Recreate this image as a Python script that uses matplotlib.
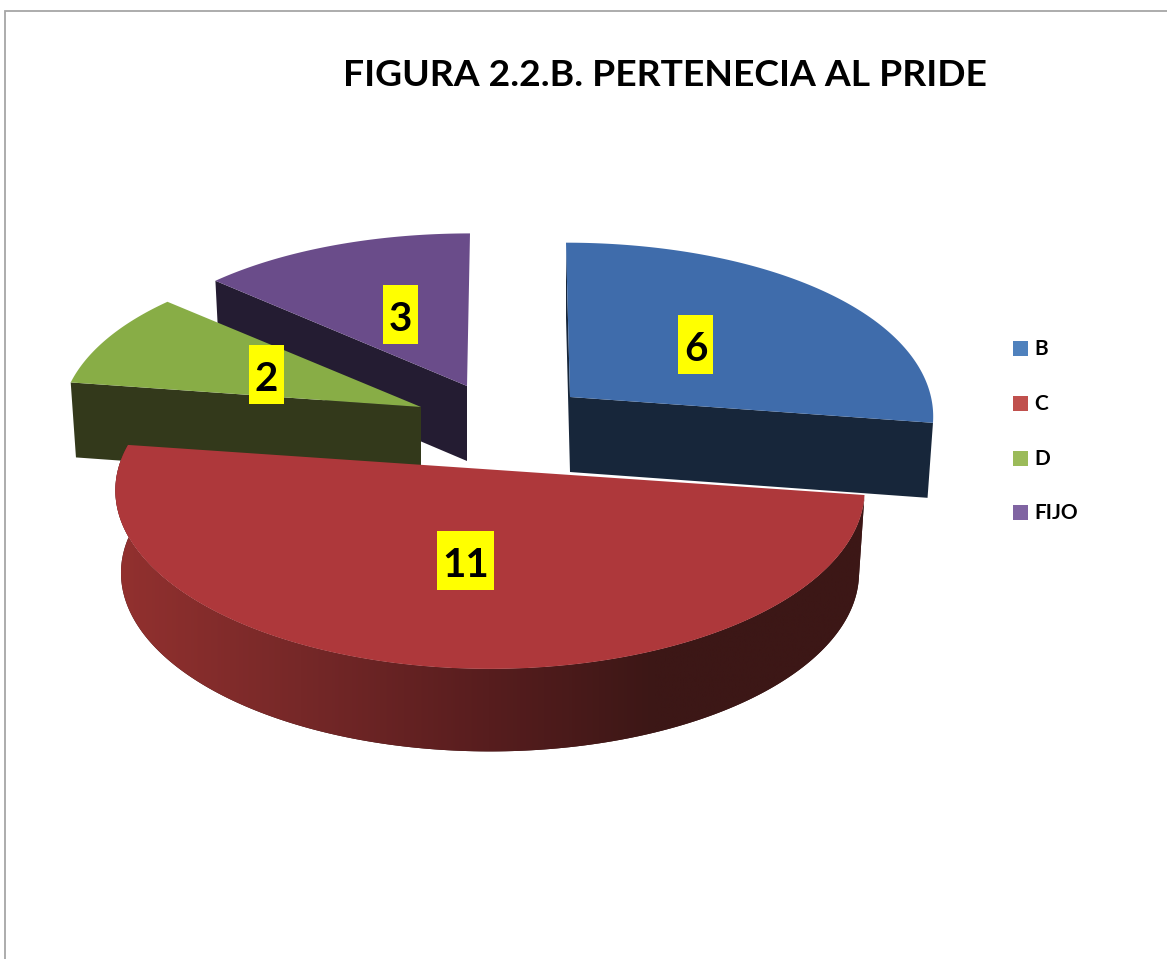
import numpy as np
import matplotlib
matplotlib.use("Agg")
from matplotlib import pyplot as plt
from matplotlib.colors import LinearSegmentedColormap, to_rgb
from matplotlib.patches import Polygon, Rectangle

TITLE = "FIGURA 2.2.B. PERTENECIA AL PRIDE"
categories = ["B", "C", "D", "FIJO"]
values = [6, 11, 2, 3]

top_colors = ["#3f6cab", "#ae383b", "#88ad46", "#6a4c8a"]
side_colors = ["#17263a", "#3a1615", "#33391b", "#241c32"]
legend_colors = ["#4f81bd", "#c0504d", "#9bbb59", "#8064a2"]

# exploded slices, in pixels of the picture
apex_x = [570, 490, 421, 467]
apex_y = [397, 469.5, 407, 386]
radius_x = [361, 372, 359, 359]
radius_y = [178, 176, 176, 176]
keystone_x = [0.1, 0.12, 0.1, 0.1]
lean = [-4, 0, 0, 3]
KEYSTONE_Y = 0.133
depth = [75, 82.5, 75, 75]
BOTTOM_SCALE = 0.985

label_x = [695.5, 465.5, 266.5, 400.5]
label_y = [344.5, 560.5, 374.5, 314.5]
legend_y = [348, 403, 458, 512]
draw_order = [3, 2, 0, 1]

plt.rcParams["font.family"] = ["Lato", "DejaVu Sans"]
plt.rcParams["font.weight"] = "bold"


def rim(i, deg, drop=0.0, scale=1.0):
    t = np.radians(deg)
    x = apex_x[i] + scale * radius_x[i] * np.sin(t) * (1 - keystone_x[i] * np.cos(t)) + lean[i] * np.cos(t)
    y = apex_y[i] - radius_y[i] * np.cos(t) * (1 - KEYSTONE_Y * np.cos(t)) + drop
    return np.column_stack([x, y])


def radial_wall(i, deg):
    corner = rim(i, np.array([deg]))
    low_corner = rim(i, np.array([deg]), depth[i], BOTTOM_SCALE)
    apex = [apex_x[i], apex_y[i]]
    low_apex = [apex_x[i], apex_y[i] + depth[i]]
    return Polygon([apex, corner[0], low_corner[0], low_apex], closed=True, fc=side_colors[i], ec="none", zorder=z)


fig = plt.figure(figsize=(11.67, 9.59), dpi=100)
ax = fig.add_axes([0, 0, 1, 1])

edges = np.cumsum([0] + values) * 360.0 / sum(values)
z = 2
for i in draw_order:
    t0, t1 = edges[i], edges[i + 1]
    arc = np.linspace(t0, t1, 200)

    # outer wall: only the big front slice shows one
    if t1 - t0 > 120:
        upper = rim(i, arc)
        lower = rim(i, arc, depth[i], BOTTOM_SCALE)
        wall = Polygon(np.vstack([upper, lower[::-1]]), closed=True, fc=side_colors[i], ec="none", zorder=z)
        ax.add_patch(wall)
        stops = [(0.0, "#93312f"), (0.25, "#762828"), (0.5, "#571d1e"), (0.72, "#3c1716"), (1.0, "#3c1716")]
        cmap = LinearSegmentedColormap.from_list("wall", [(p, to_rgb(c)) for p, c in stops])
        img = ax.imshow(np.linspace(0, 1, 256)[None, :], cmap=cmap, aspect="auto",
                        extent=[112, 866, 760, 440], zorder=z, interpolation="bilinear")
        img.set_clip_path(wall)
    if np.sin(np.radians(t0)) < -0.01 or (t0 == 0 and lean[i] < 0):
        ax.add_patch(radial_wall(i, t0))
    if np.sin(np.radians(t1)) > 0.01:
        ax.add_patch(radial_wall(i, t1))

    top = np.vstack([[apex_x[i], apex_y[i]], rim(i, arc)])
    ax.add_patch(Polygon(top, closed=True, fc=top_colors[i], ec="none", zorder=z + 0.5))
    z += 1

# data labels
for i, v in enumerate(values):
    s = str(v)
    w = 13 + 22 * len(s)
    ax.add_patch(Rectangle((label_x[i] - w / 2, label_y[i] - 29.5), w, 59, fc="#ffff00", ec="none", zorder=10))
    ax.text(label_x[i], label_y[i] + 5, s, ha="center", va="center", fontsize=29, color="black", zorder=11)

# legend
for i, name in enumerate(categories):
    ax.add_patch(Rectangle((1013, legend_y[i] - 7.5), 15, 15, fc=legend_colors[i], ec="none", zorder=10))
    ax.text(1034.5, legend_y[i] + 1, name, ha="left", va="center", fontsize=15, color="black", zorder=11)

ax.text(665, 75, TITLE, ha="center", va="center", fontsize=26.8, color="black", zorder=11)

# chart frame, cut off by the screenshot on the right and at the bottom
ax.plot([4.5, 4.5, 1167], [959, 10.5, 10.5], color="#a6a6a6", lw=1.3, zorder=1, solid_joinstyle="miter")

ax.set_xlim(0, 1167)
ax.set_ylim(959, 0)
ax.axis("off")
fig.savefig("out.png", dpi=100)
